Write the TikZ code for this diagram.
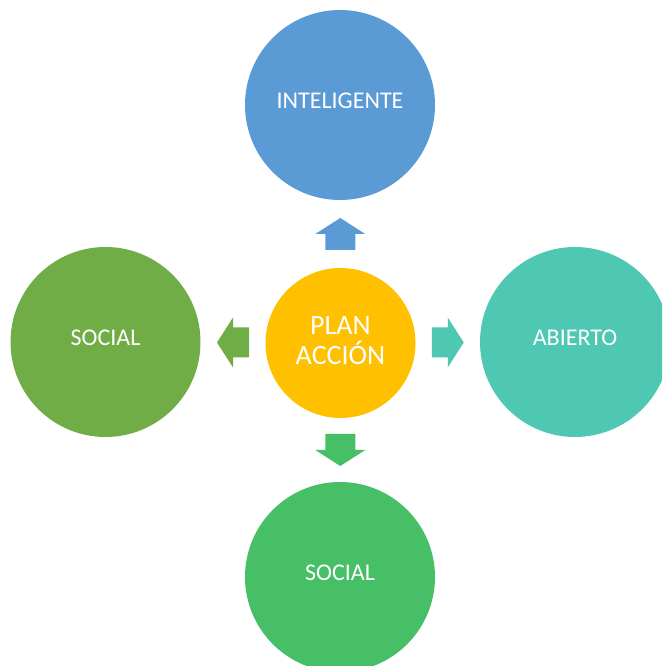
\documentclass[tikz,border=0pt]{standalone}
\usepackage{fontspec}
\setmainfont{Carlito}
\usepackage{tikz}
\usetikzlibrary{positioning}
\usetikzlibrary{calc}
\definecolor{azul}{HTML}{5B9BD5}
\definecolor{oro}{HTML}{FFC000}
\definecolor{verde}{HTML}{70AD47}
\definecolor{turquesa}{HTML}{4FC8B3}
\definecolor{verdeclaro}{HTML}{47BF67}
\tikzstyle{bubble} = [circle,inner sep=0pt,minimum size=190pt,text=white,text depth=8pt,font=\fontsize{24}{29}\selectfont]
\newcommand{\blockarr}[3]{\fill[#1,shift={#2},rotate=#3] (-16,-15) -- (0,-15) -- (0,-25) -- (16,0) -- (0,25) -- (0,15) -- (-16,15) -- cycle;}

\begin{document}
\begin{tikzpicture}[x=1pt,y=1pt]
				\useasboundingbox (0,0) rectangle (662,666);
				\clip (0,0) rectangle (662,666);
				
				%Nodes
				\node [bubble,fill=oro,minimum size=150pt,align=center,text depth=4pt,font=\fontsize{28}{30}\selectfont] (plan) at (340.5,323) {PLAN\\ACCIÓN};
				\node [bubble,fill=azul] (intel) at (340,561) {INTELIGENTE};
				\node [bubble,fill=verde] (socializq) at (105.5,324) {SOCIAL};
				\node [bubble,fill=turquesa] (abierto) at (575,324) {ABIERTO};
				\node [bubble,fill=verdeclaro] (socialab) at (340,89) {SOCIAL};
				
				%Arrows
				\blockarr{azul}{($(plan.north)!0.5!(intel.south)$)}{90}
				\blockarr{verde}{($(plan.west)!0.5!(socializq.east)$)}{180}
				\blockarr{turquesa}{($(plan.east)!0.5!(abierto.west)$)}{0}
				\blockarr{verdeclaro}{($(plan.south)!0.5!(socialab.north)$)}{270}
				
			\end{tikzpicture}
\end{document}
